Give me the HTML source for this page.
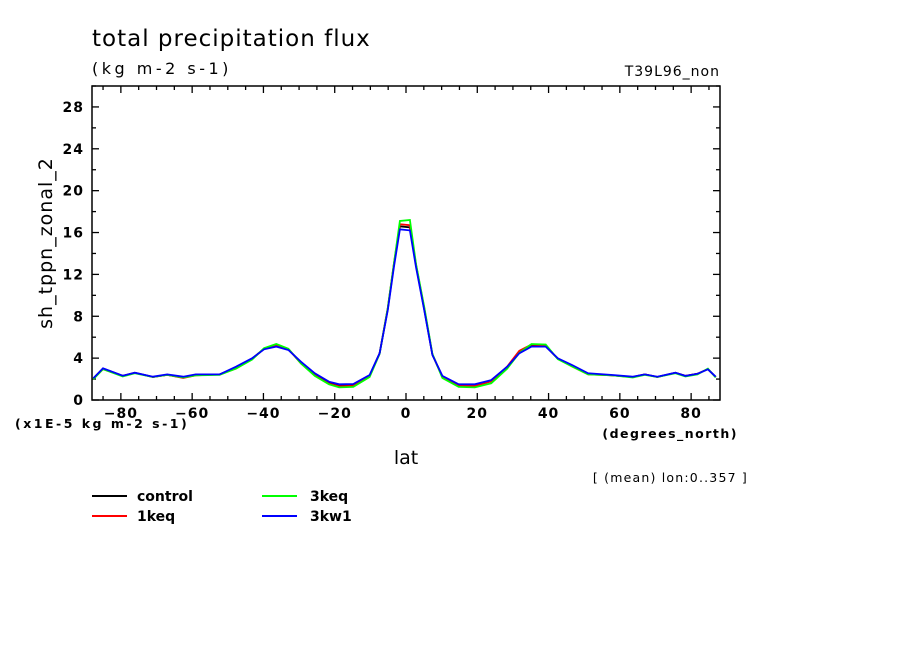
<!DOCTYPE html>
<html><head><meta charset="utf-8"><style>
body{margin:0;background:#fff;}
svg text{font-family:"DejaVu Sans","Liberation Sans",sans-serif;fill:#000;}
</style></head><body>
<svg id="chart" width="904" height="654" viewBox="0 0 904 654" xmlns="http://www.w3.org/2000/svg">
<text x="92" y="46" font-size="23" letter-spacing="1">total precipitation flux</text>
<text x="92" y="74" font-size="16" letter-spacing="3.5">(kg m-2 s-1)</text>
<text x="720" y="76" font-size="14" text-anchor="end" letter-spacing="1">T39L96_non</text>
<text transform="translate(52,243) rotate(-90)" font-size="19" text-anchor="middle" letter-spacing="1">sh_tppn_zonal_2</text>
<text x="15" y="428" font-size="12.5" letter-spacing="2.5" font-weight="bold">(x1E-5 kg m-2 s-1)</text>
<text x="738" y="438" font-size="12.5" text-anchor="end" letter-spacing="1.5" font-weight="bold">(degrees_north)</text>
<text x="406" y="464" font-size="19" text-anchor="middle">lat</text>
<text x="748" y="482" font-size="12.5" text-anchor="end" letter-spacing="1.2">[ (mean) lon:0..357 ]</text>
<g id="axes"></g>
<g id="series"></g>
<g>
<line x1="92" y1="496" x2="127" y2="496" stroke="#000" stroke-width="2"/><text x="137" y="501" font-size="14" font-weight="bold">control</text>
<line x1="92" y1="516" x2="127" y2="516" stroke="#f00" stroke-width="2"/><text x="137" y="521" font-size="14" font-weight="bold">1keq</text>
<line x1="262" y1="496" x2="297" y2="496" stroke="#0f0" stroke-width="2"/><text x="310" y="501" font-size="14" font-weight="bold">3keq</text>
<line x1="262" y1="516" x2="297" y2="516" stroke="#00f" stroke-width="2"/><text x="310" y="521" font-size="14" font-weight="bold">3kw1</text>
</g>
</svg>
<script>
const lats=[-87.7,-85,-79.5,-76.1,-71,-67,-62.5,-59,-52.3,-47.7,-43.2,-39.8,-36.4,-33,-29.5,-25.6,-21.6,-18.75,-14.8,-10.2,-7.4,-5.1,-3.4,-1.7,1.1,2.8,5.1,7.4,10.2,14.8,19.3,23.9,28.4,31.8,35.2,39.2,42.6,46.6,51.1,58,63.6,67,70.5,75.6,78.4,81.8,84.7,86.9];
const control=[2.07,3.0,2.3,2.6,2.2,2.4,2.15,2.4,2.45,3.1,3.95,4.9,5.2,4.85,3.55,2.4,1.6,1.35,1.4,2.3,4.45,8.7,12.9,16.6,16.5,12.9,8.7,4.35,2.2,1.4,1.35,1.8,3.1,4.55,5.2,5.15,3.95,3.25,2.5,2.35,2.2,2.45,2.2,2.6,2.3,2.5,2.95,2.2];
const keq1=[2.05,2.95,2.3,2.6,2.2,2.4,2.1,2.35,2.45,3.0,3.9,4.9,5.25,4.85,3.5,2.35,1.55,1.3,1.35,2.3,4.45,8.8,13.0,16.8,16.7,12.9,8.8,4.35,2.2,1.4,1.35,1.8,3.2,4.7,5.3,5.2,3.95,3.2,2.45,2.35,2.2,2.45,2.2,2.6,2.3,2.5,2.95,2.2];
const keq3=[2.0,2.95,2.25,2.55,2.2,2.4,2.15,2.35,2.4,3.0,3.85,4.95,5.35,4.9,3.5,2.3,1.5,1.2,1.25,2.2,4.4,8.8,13.0,17.1,17.2,13.0,8.9,4.4,2.1,1.25,1.2,1.6,3.0,4.5,5.35,5.3,3.9,3.2,2.45,2.35,2.15,2.4,2.2,2.55,2.25,2.45,3.0,2.15];
const kw1=[2.07,3.03,2.32,2.61,2.23,2.45,2.23,2.45,2.45,3.18,3.98,4.84,5.1,4.78,3.66,2.55,1.75,1.5,1.53,2.39,4.46,8.6,12.7,16.3,16.2,12.7,8.6,4.3,2.3,1.5,1.5,1.9,3.18,4.46,5.1,5.1,3.98,3.34,2.55,2.39,2.23,2.45,2.23,2.61,2.3,2.5,2.93,2.23];
const yTicks=[0,4,8,12,16,20,24,28];
const xTicks=[-80,-60,-40,-20,0,20,40,60,80];
const NS="http://www.w3.org/2000/svg";
const X0=92,X1=720,Y0=400,Y1=86,LMIN=-88.1,LMAX=88.1,VMAX=30;
function xs(v){return X0+(v-LMIN)/(LMAX-LMIN)*(X1-X0);}
function ys(v){return Y0-v/VMAX*(Y0-Y1);}
function mk(tag,attrs,parent){const e=document.createElementNS(NS,tag);for(const k in attrs)e.setAttribute(k,attrs[k]);parent.appendChild(e);return e;}
const ax=document.getElementById('axes');
const frame=mk('rect',{x:X0,y:Y1,width:X1-X0,height:Y0-Y1,fill:'none',stroke:'#000','stroke-width':1.5},ax);


for(let v=0;v<=VMAX;v+=2){const major=v%4===0;const L=major?7:4;
 mk('line',{x1:X0,y1:ys(v),x2:X0+L,y2:ys(v),stroke:'#000','stroke-width':1.3},ax);
 mk('line',{x1:X1,y1:ys(v),x2:X1-L,y2:ys(v),stroke:'#000','stroke-width':1.3},ax);}
yTicks.forEach(v=>{const t=mk('text',{x:X0-8,y:ys(v)+5,'font-size':14,'text-anchor':'end','font-weight':'bold','letter-spacing':1},ax);t.textContent=v;
 
 });
for(let v=-85;v<=85;v+=5){const major=v%20===0;const L=major?7:4;
 mk('line',{x1:xs(v),y1:Y0,x2:xs(v),y2:Y0-L,stroke:'#000','stroke-width':1.3},ax);
 mk('line',{x1:xs(v),y1:Y1,x2:xs(v),y2:Y1+L,stroke:'#000','stroke-width':1.3},ax);}
xTicks.forEach(v=>{const t=mk('text',{x:xs(v),y:Y0+18,'font-size':14,'text-anchor':'middle','font-weight':'bold','letter-spacing':1},ax);t.textContent=(v<0?'\u2212':'')+Math.abs(v);
 
 });
const sg=document.getElementById('series');
[[control,'#000','line-control'],[keq1,'#f00','line-1keq'],[keq3,'#0f0','line-3keq'],[kw1,'#00f','line-3kw1']].forEach(([d,c,n])=>{
 const p=mk('polyline',{points:d.map((v,i)=>xs(lats[i]).toFixed(1)+','+ys(v).toFixed(1)).join(' '),fill:'none',stroke:c,'stroke-width':1.8},sg);
 
 });
</script>
</body></html>
